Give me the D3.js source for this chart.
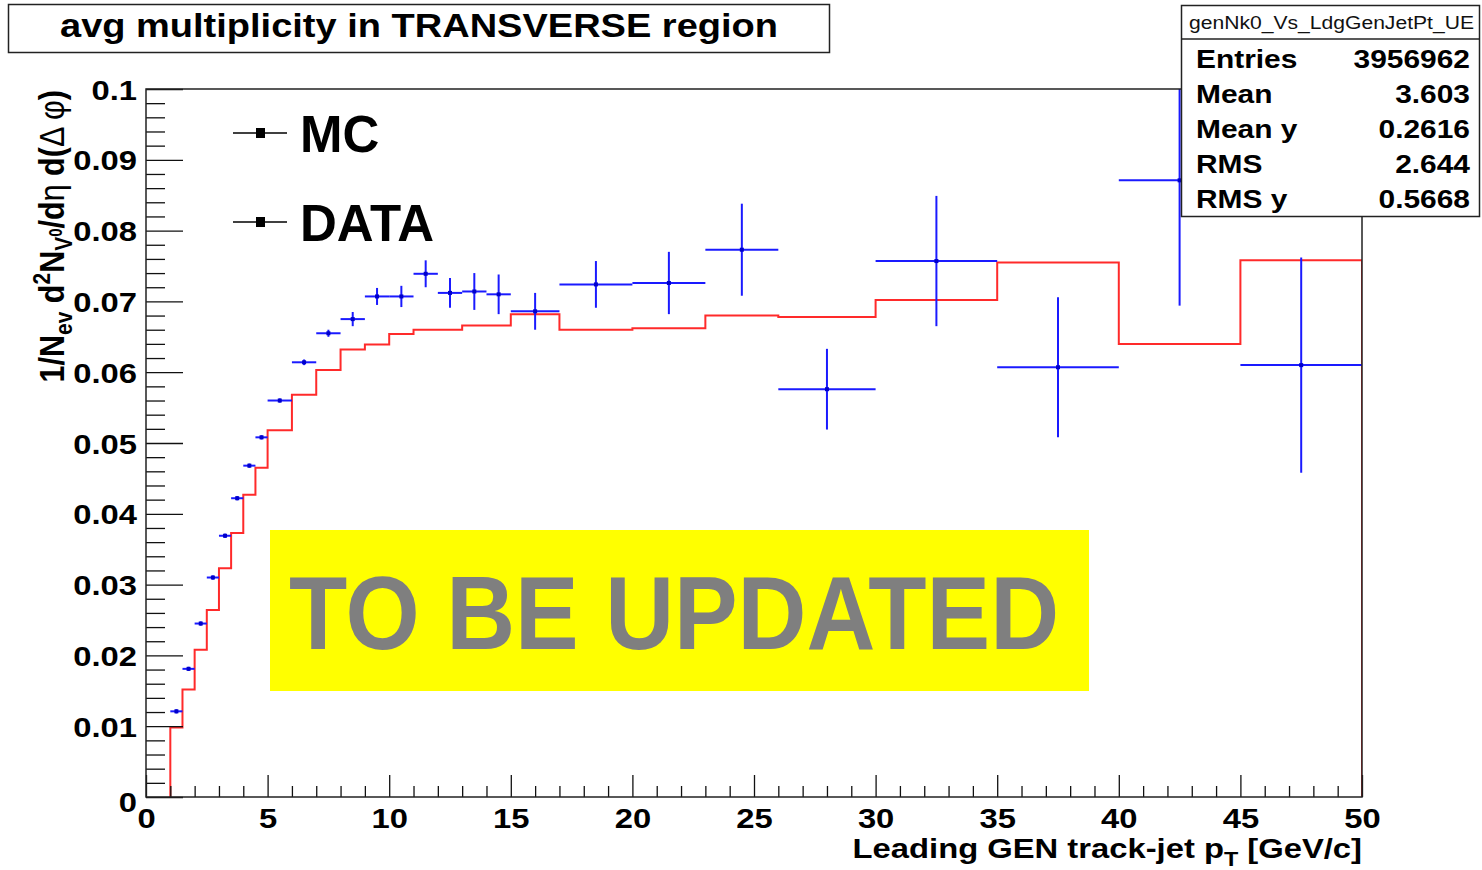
<!DOCTYPE html>
<html>
<head>
<meta charset="utf-8">
<script src="https://cdn.jsdelivr.net/npm/d3@7"></script>
<style>
  body { margin: 0; background: #fff; }
  text { font-family: "Liberation Sans", Arial, sans-serif; }
</style>
</head>
<body>
<svg id="chart"></svg>
<script>
// bin edges of the leading track-jet pT histogram [GeV/c]
const binEdges = [1, 1.5, 2, 2.5, 3, 3.5, 4, 4.5, 5, 6, 7, 8, 9, 10, 11, 12, 13, 14, 15, 17, 20, 23, 26, 30, 35, 40, 45, 50];

// MC (red step histogram)
const mcValues = [0.0098, 0.0152, 0.0208, 0.0264, 0.0323, 0.0373, 0.0427, 0.0465, 0.0518, 0.0568,
  0.0603, 0.0632, 0.0639, 0.0654, 0.0660, 0.0660, 0.0666, 0.0666, 0.0682, 0.0660,
  0.0662, 0.0680, 0.0678, 0.0702, 0.0755, 0.0640, 0.0758];

// DATA (blue points with error bars)
const dataValues = [0.0121, 0.0181, 0.0245, 0.0310, 0.0369, 0.0422, 0.0468, 0.0508, 0.0560, 0.0614,
  0.0655, 0.0675, 0.0707, 0.0707, 0.0739, 0.0712, 0.0714, 0.0710, 0.0686, 0.0724,
  0.0726, 0.0773, 0.0576, 0.0757, 0.0607, 0.0871, 0.0610];
const dataErrors = [0.0003, 0.0003, 0.0003, 0.0003, 0.0003, 0.0003, 0.0003, 0.0003, 0.0003, 0.0004,
  0.0005, 0.0010, 0.0012, 0.0015, 0.0019, 0.0021, 0.0026, 0.0028, 0.0026, 0.0033,
  0.0044, 0.0065, 0.0057, 0.0092, 0.0099, 0.0177, 0.0152];

const yMajorTicks = [0, 0.01, 0.02, 0.03, 0.04, 0.05, 0.06, 0.07, 0.08, 0.09, 0.1];
const xMajorTicks = [0, 5, 10, 15, 20, 25, 30, 35, 40, 45, 50];

const statsLabels = ["Entries", "Mean", "Mean y", "RMS", "RMS y"];
const statsValues = ["3956962", "3.603", "0.2616", "2.644", "0.5668"];

const W = 1482, H = 870;
const frameL = 146, frameR = 1362, frameT = 89, frameB = 797;
const wide = 1.17; // the original canvas is stretched sideways

const svg = d3.select("#chart").attr("width", W).attr("height", H);
svg.append("rect").attr("width", W).attr("height", H).attr("fill", "#fff");

// widen plain texts so they match the stretched canvas
function stretch(sel, k) {
  sel.each(function() {
    const w = this.getComputedTextLength();
    d3.select(this).attr("textLength", w * k).attr("lengthAdjust", "spacingAndGlyphs");
  });
}

const x = d3.scaleLinear().domain([0, 50]).range([frameL, frameR]);
const y = d3.scaleLinear().domain([0, 0.1]).range([frameB, frameT]);

svg.append("defs").append("clipPath").attr("id", "plotclip")
  .append("rect").attr("x", frameL).attr("y", frameT).attr("width", frameR - frameL).attr("height", frameB - frameT);

// bins
const bins = mcValues.map((v, i) => ({
  lo: binEdges[i], hi: binEdges[i + 1], mc: v, data: dataValues[i], err: dataErrors[i]
}));

// MC histogram outline
const stepPts = [[binEdges[0], 0]];
bins.forEach(b => { stepPts.push([b.lo, b.mc]); stepPts.push([b.hi, b.mc]); });
stepPts.push([binEdges[binEdges.length - 1], 0]);

const plot = svg.append("g").attr("clip-path", "url(#plotclip)");

plot.append("path")
  .datum(stepPts)
  .attr("d", d3.line().x(d => x(d[0])).y(d => y(d[1])))
  .attr("fill", "none")
  .attr("stroke", "#ff2a2a")
  .attr("stroke-width", 2);

// data error bars
const eb = plot.selectAll("g.pt").data(bins).join("g").attr("class", "pt");
eb.append("line")
  .attr("x1", d => x(d.lo)).attr("x2", d => x(d.hi))
  .attr("y1", d => y(d.data)).attr("y2", d => y(d.data))
  .attr("stroke", "#1a1aff").attr("stroke-width", 2);
eb.append("line")
  .attr("x1", d => x((d.lo + d.hi) / 2)).attr("x2", d => x((d.lo + d.hi) / 2))
  .attr("y1", d => y(d.data - d.err)).attr("y2", d => y(d.data + d.err))
  .attr("stroke", "#1a1aff").attr("stroke-width", 2);
eb.append("rect")
  .attr("x", d => x((d.lo + d.hi) / 2) - 2).attr("y", d => y(d.data) - 2)
  .attr("width", 4).attr("height", 4).attr("fill", "#0000cc");

// axes, ROOT style: ticks pointing into the frame
const yMinor = d3.range(0, 51).filter(i => i % 5 !== 0).map(i => i / 500);
const xMinor = d3.range(0, 51).filter(i => i % 5 !== 0);

const yAx = svg.append("g").attr("transform", `translate(${frameL},0)`)
  .call(d3.axisLeft(y).tickValues(yMajorTicks).tickSize(-37).tickPadding(9)
    .tickFormat(d => String(+d.toFixed(2))));
svg.append("g").attr("transform", `translate(${frameL},0)`)
  .call(d3.axisLeft(y).tickValues(yMinor).tickSize(-19).tickFormat(""));

const xAx = svg.append("g").attr("transform", `translate(0,${frameB})`)
  .call(d3.axisBottom(x).tickValues(xMajorTicks).tickSize(-22).tickPadding(11));
svg.append("g").attr("transform", `translate(0,${frameB})`)
  .call(d3.axisBottom(x).tickValues(xMinor).tickSize(-11).tickFormat(""));

svg.selectAll(".domain").remove();
svg.selectAll(".tick line").attr("stroke", "#111").attr("stroke-width", 1.3);
svg.selectAll(".tick text")
  .attr("font-family", "Liberation Sans, Arial, sans-serif")
  .attr("font-size", 28).attr("font-weight", "bold").attr("fill", "#000");
yAx.selectAll(".tick text").attr("dy", "0.36em");
yAx.selectAll(".tick").filter(d => d === 0).select("text").attr("dy", "0.5em");
stretch(yAx.selectAll(".tick text"), wide);
stretch(xAx.selectAll(".tick text"), wide);

// frame
svg.append("rect").attr("x", frameL).attr("y", frameT)
  .attr("width", frameR - frameL).attr("height", frameB - frameT)
  .attr("fill", "none").attr("stroke", "#222").attr("stroke-width", 1.5);

// axis titles
const xt = svg.append("text")
  .attr("transform", `translate(${frameR},858) scale(${wide},1)`)
  .attr("text-anchor", "end")
  .attr("font-size", 28).attr("font-weight", "bold");
xt.append("tspan").text("Leading GEN track-jet p");
xt.append("tspan").attr("font-size", 20).attr("dy", 8).text("T");
xt.append("tspan").attr("dy", -8).text(" [GeV/c]");

const yt = svg.append("text")
  .attr("transform", `translate(64,90) rotate(-90) scale(1,${wide})`)
  .attr("text-anchor", "end")
  .attr("font-size", 30.5).attr("font-weight", "bold");
yt.append("tspan").text("1/N");
yt.append("tspan").attr("font-size", 21).attr("dy", 7).text("ev");
yt.append("tspan").attr("dy", -7).text(" d");
yt.append("tspan").attr("font-size", 21).attr("dy", -12).text("2");
yt.append("tspan").attr("dy", 12).text("N");
yt.append("tspan").attr("font-size", 21).attr("dy", 7).text("V");
yt.append("tspan").attr("font-size", 15).attr("dy", -9).text("0");
yt.append("tspan").attr("dy", 2).text("/d");
yt.append("tspan").attr("font-weight", "normal").text("\u03b7");
yt.append("tspan").text(" d(");
yt.append("tspan").attr("font-weight", "normal").text("\u0394 \u03c6");
yt.append("tspan").text(")");

// legend
const legendItems = ["MC", "DATA"];
const lg = svg.selectAll("g.leg").data(legendItems).join("g").attr("class", "leg")
  .attr("transform", (d, i) => `translate(0,${133 + i * 89})`);
lg.append("line").attr("x1", 233).attr("x2", 287).attr("y1", 0).attr("y2", 0)
  .attr("stroke", "#000").attr("stroke-width", 1.5);
lg.append("rect").attr("x", 256).attr("y", -5).attr("width", 9).attr("height", 10).attr("fill", "#000");
lg.append("text").attr("x", 300).attr("y", 19)
  .attr("font-size", 51).attr("font-weight", "bold").text(d => d);

// title box
svg.append("rect").attr("x", 8.5).attr("y", 4.5).attr("width", 821).attr("height", 48)
  .attr("fill", "#fff").attr("stroke", "#222").attr("stroke-width", 1.5);
svg.append("text").attr("x", 419).attr("y", 37).attr("text-anchor", "middle")
  .attr("font-size", 33).attr("font-weight", "bold")
  .attr("textLength", 718).attr("lengthAdjust", "spacingAndGlyphs")
  .text("avg multiplicity in TRANSVERSE region");

// stats box
svg.append("rect").attr("x", 1181.5).attr("y", 5.5).attr("width", 298).attr("height", 211)
  .attr("fill", "#fff").attr("stroke", "#222").attr("stroke-width", 1.5);
svg.append("line").attr("x1", 1181.5).attr("x2", 1479.5).attr("y1", 39).attr("y2", 39)
  .attr("stroke", "#222").attr("stroke-width", 1.5);
svg.append("text").attr("x", 1189).attr("y", 29)
  .attr("font-size", 18).attr("textLength", 285).attr("lengthAdjust", "spacingAndGlyphs")
  .attr("fill", "#111").text("genNk0_Vs_LdgGenJetPt_UE");
const st = svg.selectAll("g.stat").data(statsLabels).join("g").attr("class", "stat")
  .attr("transform", (d, i) => `translate(0,${68 + i * 35})`);
st.append("text").attr("class", "sl").attr("x", 1196).attr("font-size", 26).attr("font-weight", "bold").text(d => d);
st.append("text").attr("class", "sv").attr("x", 1470).attr("text-anchor", "end")
  .attr("font-size", 26).attr("font-weight", "bold").text((d, i) => statsValues[i]);
stretch(st.selectAll("text"), 1.15);

// overlay note
svg.append("rect").attr("x", 270).attr("y", 530).attr("width", 819).attr("height", 161).attr("fill", "#ffff00");
svg.append("text").attr("x", 289).attr("y", 649)
  .attr("font-family", "Open Sans, sans-serif").attr("font-weight", "bold")
  .attr("font-size", 103).attr("fill", "#7f7f7f")
  .attr("textLength", 770).attr("lengthAdjust", "spacingAndGlyphs")
  .text("TO BE UPDATED");
</script>
</body>
</html>
